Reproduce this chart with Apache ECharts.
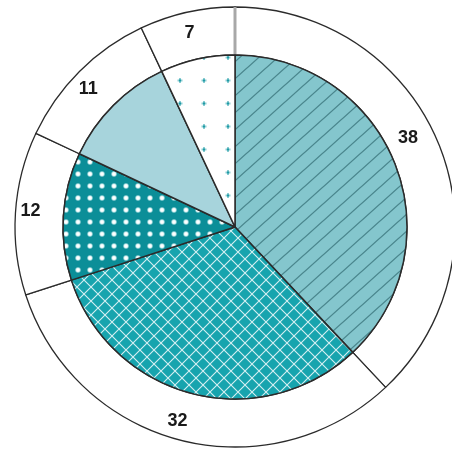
<!DOCTYPE html>
<html>
<head>
<meta charset="utf-8">
<script src="https://cdn.jsdelivr.net/npm/echarts@6/dist/echarts.min.js"></script>
<style>
html,body{margin:0;padding:0;background:#fff;}
#chart{width:452px;height:451px;}
</style>
</head>
<body>
<div id="chart"></div>
<script>
// Data
var categories = ['A', 'B', 'C', 'D', 'E'];
var values = [38, 32, 12, 11, 7];
var labels = ['38', '32', '12', '11', '7'];

// Pattern helpers
function mk(w, h, draw) {
  var c = document.createElement('canvas');
  c.width = w; c.height = h;
  var ctx = c.getContext('2d');
  draw(ctx, w, h);
  return { image: c, repeat: 'repeat' };
}
var patHatch = mk(19, 17, function (ctx, w, h) {
  ctx.fillStyle = '#84c6cd'; ctx.fillRect(0, 0, w, h);
  ctx.strokeStyle = '#4a868d'; ctx.lineWidth = 1.3;
  ctx.beginPath();
  ctx.moveTo(-w, 2 * h); ctx.lineTo(2 * w, -h);
  ctx.moveTo(-w, h); ctx.lineTo(w, -h);
  ctx.moveTo(0, 2 * h); ctx.lineTo(2 * w, 0);
  ctx.stroke();
});
var patCross = mk(14, 14, function (ctx, w, h) {
  ctx.fillStyle = '#17a4ae'; ctx.fillRect(0, 0, w, h);
  ctx.strokeStyle = '#d6f0f2'; ctx.lineWidth = 1.1;
  ctx.beginPath();
  ctx.moveTo(0, 0); ctx.lineTo(w, h);
  ctx.moveTo(0, h); ctx.lineTo(w, 0);
  ctx.stroke();
});
var patDotsDark = mk(12, 12, function (ctx, w, h) {
  ctx.fillStyle = '#0b8e98'; ctx.fillRect(0, 0, w, h);
  ctx.fillStyle = '#cfeef0';
  ctx.fillRect(w / 2 - 2.5, h / 2 - 1.5, 5, 3);
  ctx.fillRect(w / 2 - 1.5, h / 2 - 2.5, 3, 5);
  ctx.fillStyle = '#ffffff';
  ctx.fillRect(w / 2 - 1.5, h / 2 - 1.5, 3, 3);
});
var patDotsLight = mk(24, 23, function (ctx, w, h) {
  ctx.fillStyle = '#ffffff'; ctx.fillRect(0, 0, w, h);
  ctx.fillStyle = '#8ccdd2';
  ctx.fillRect(w / 2 - 2.5, h / 2 - 1, 5, 2);
  ctx.fillRect(w / 2 - 1, h / 2 - 2.5, 2, 5);
  ctx.fillStyle = '#1f9aa5';
  ctx.fillRect(w / 2 - 1, h / 2 - 1, 2, 2);
});
var fills = [patHatch, patCross, patDotsDark, '#a7d4dc', patDotsLight];
var labelOffsets = [[-12, -16], [-8, 1], [-6, -3], [-6, 3], [-2, 0]];

var cx = 235, cy = 227, rIn = 172, rOut = 220;

var outerData = values.map(function (v, i) {
  return {
    name: categories[i], value: v,
    label: { show: true, formatter: labels[i], offset: labelOffsets[i] }
  };
});
var innerData = values.map(function (v, i) {
  return { name: categories[i], value: v, itemStyle: { color: fills[i] } };
});

var chart = echarts.init(document.getElementById('chart'), null, { renderer: 'canvas' });
chart.setOption({
  animation: false,
  backgroundColor: '#ffffff',
  series: [
    {
      type: 'pie', z: 2,
      center: [cx, cy], radius: [rIn, rOut],
      startAngle: 90, clockwise: true,
      silent: true,
      itemStyle: { color: '#ffffff', borderColor: '#2b2b2b', borderWidth: 1.3 },
      label: { position: 'inside', color: '#1a1a1a', fontSize: 18, fontFamily: 'Liberation Sans Narrow, Liberation Sans', fontWeight: 'bold' },
      labelLine: { show: false },
      emphasis: { disabled: true },
      data: outerData
    },
    {
      type: 'pie', z: 4,
      center: [cx, cy], radius: [0, rIn],
      startAngle: 90, clockwise: true,
      silent: true,
      itemStyle: { borderColor: '#2b2b2b', borderWidth: 1.5 },
      label: { show: false },
      labelLine: { show: false },
      emphasis: { disabled: true },
      data: innerData
    }
  ],
  graphic: [
    {
      type: 'line', z: 3, silent: true,
      shape: { x1: cx, y1: cy, x2: cx, y2: cy - rOut },
      style: { stroke: '#a8a8a8', lineWidth: 3 }
    }
  ]
});
</script>
</body>
</html>
